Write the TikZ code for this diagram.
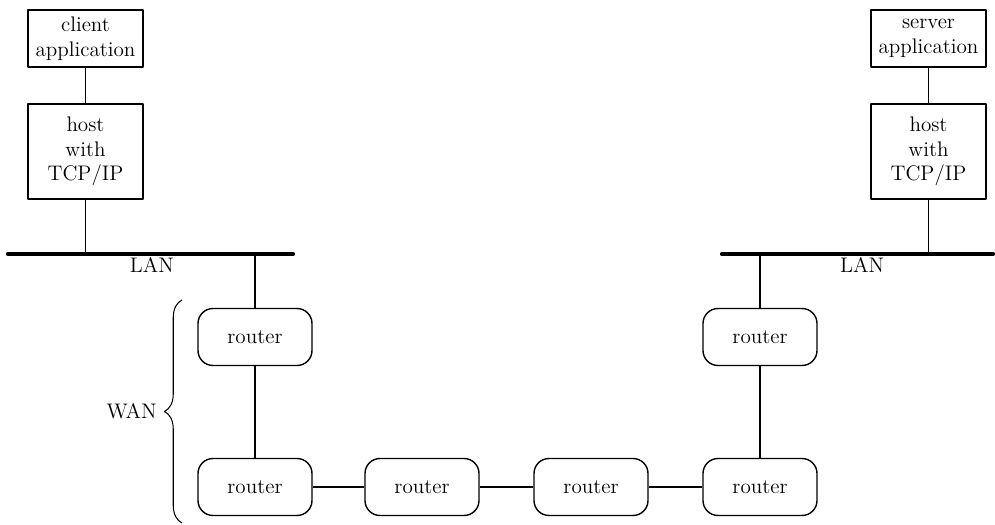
\documentclass[tikz,border=0pt]{standalone}
\usepackage{tikz}
\usetikzlibrary{
	calc,
	decorations.pathreplacing,
	positioning
}
\tikzstyle{every picture}+=[line join=round]

\begin{document}
\begin{tikzpicture}[
		box/.style={draw, line width=0.8pt, minimum width=2.3cm, align=center, font=\large, inner sep=2pt},
		router/.style={draw, line width=0.8pt, rounded corners=0.3cm, minimum width=2.28cm, minimum height=1.14cm, font=\large},
		link/.style={line width=0.6pt},
		lan/.style={line width=2.4pt, line cap=round}
		]
	\useasboundingbox (0,0) rectangle (19.9,10.48);

	% the two end hosts
	\node[box, minimum height=1.14cm] (capp) at (1.71,9.71) {client\\application};
	\node[box, minimum height=1.9cm] (chost) at (1.71,7.45) {host\\with\\TCP/IP};
	\node[box, minimum height=1.14cm] (sapp) at (18.57,9.71) {server\\application};
	\node[box, minimum height=1.9cm] (shost) at (18.57,7.45) {host\\with\\TCP/IP};

	% LANs
	\coordinate (lanLa) at (0.16,5.4);
	\coordinate (lanLb) at (5.86,5.4);
	\coordinate (lanRa) at (14.44,5.4);
	\coordinate (lanRb) at (19.86,5.4);
	\draw[lan] (lanLa) -- (lanLb) node[pos=0.505, below=0pt, inner sep=1pt, font=\large] (lanL) {LAN};
	\draw[lan] (lanRa) -- (lanRb) node[pos=0.517, below=0pt, inner sep=1pt, font=\large] (lanR) {LAN};

	% routers
	\node[router] (rtLtop) at (5.1,3.74) {router};
	\node[router] (rtRtop) at (15.2,3.74) {router};
	\foreach \name/\x in {rtLbot/5.1, rtM1/8.44, rtM2/11.82, rtRbot/15.2} {
		\node[router] (\name) at (\x,0.74) {router};
	}

	\draw[link] (capp) -- (chost);
	\draw[link] (sapp) -- (shost);
	\draw[link] (chost) -- (chost |- lanLa);
	\draw[link] (shost) -- (shost |- lanRa);
	\draw[link] (rtLtop) -- (rtLtop |- lanLa);
	\draw[link] (rtRtop) -- (rtRtop |- lanRa);
	\draw[link] (rtLtop) -- (rtLbot);
	\draw[link] (rtLbot) -- (rtM1);
	\draw[link] (rtM1) -- (rtM2);
	\draw[link] (rtM2) -- (rtRbot);
	\draw[link] (rtRbot) -- (rtRtop);

	% WAN brace
	\coordinate (braceBot) at (3.64,0.02);
	\coordinate (braceTop) at (3.64,4.48);
	\draw[link, decorate, decoration={brace, amplitude=0.35cm}] (braceBot) -- (braceTop)
		node[midway, left=0.38cm, font=\large] (wan) {WAN};

\end{tikzpicture}
\end{document}
